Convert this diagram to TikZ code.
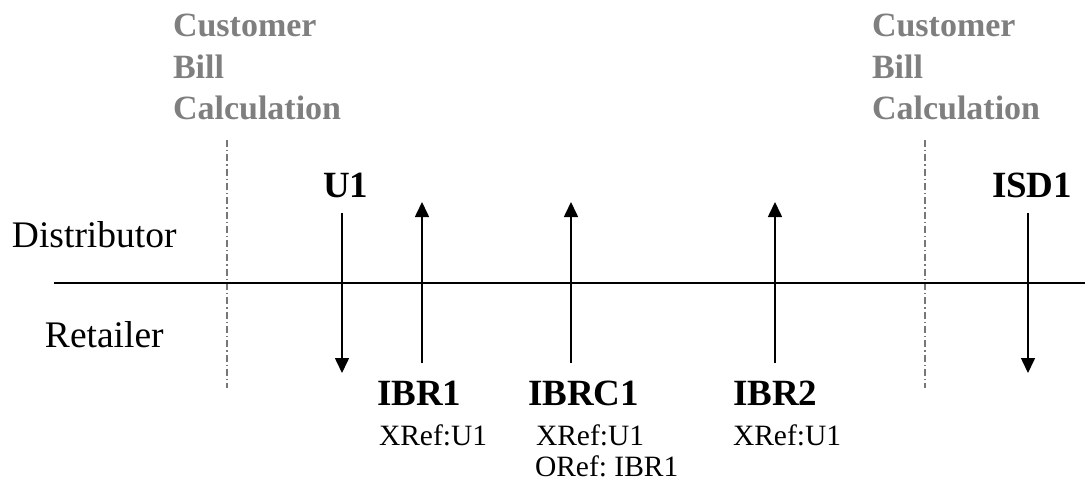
\documentclass[tikz,border=0pt]{standalone}
\usepackage{fontspec}
\setmainfont{Liberation Serif}
\usetikzlibrary{arrows.meta}
\frenchspacing
\definecolor{hdrgray}{HTML}{7F7F7F}
\definecolor{sepgray}{HTML}{777777}
\tikzset{
  txt/.style={anchor=base west, inner sep=0pt, outer sep=0pt},
  hdr/.style={txt, text=hdrgray, font=\fontsize{34}{41}\selectfont\bfseries},
  lane/.style={txt, font=\fontsize{37.5}{40}\selectfont},
  msg/.style={txt, font=\fontsize{37}{40}\selectfont\bfseries},
  refs/.style={txt, font=\fontsize{29.5}{32}\selectfont},
  sep/.style={draw=sepgray, line width=1.3pt, dash pattern=on 7pt off 3pt on 1.3pt off 3pt},
  axis/.style={draw=black, line width=1.6pt},
  flow/.style={draw=black, line width=1.6pt, -{Triangle[length=15pt,width=14pt]}}
}
\begin{document}
\begin{tikzpicture}[x=1pt,y=-1pt]
\useasboundingbox (0,0) rectangle (1085,487);

% headers
\node[hdr] (hl1) at (173,37) {Customer};
\node[hdr] (hl2) at (173,78) {Bill};
\node[hdr] (hl3) at (173,119) {Calculation};
\node[hdr] (hr1) at (872,37) {Customer};
\node[hdr] (hr2) at (872,78) {Bill};
\node[hdr] (hr3) at (872,119) {Calculation};

% separators
\coordinate (sl1) at (227,140);
\coordinate (sl2) at (227,388);
\coordinate (sr1) at (925,140);
\coordinate (sr2) at (925,388);
\draw[sep] (sl1) -- (sl2);
\draw[sep] (sr1) -- (sr2);

% lanes
\node[lane] (dist) at (12,247) {Distributor};
\node[lane] (ret) at (45,347) {Retailer};
\coordinate (ax1) at (54,283);
\coordinate (ax2) at (1085,283);
\draw[axis] (ax1) -- (ax2);

% messages
\node[msg] (U1) at (323,197) {U1};
\node[msg] (ISD1) at (992,197) {ISD1};
\node[msg] (IBR1) at (377,405) {IBR1};
\node[msg] (IBRC1) at (528,405) {IBRC1};
\node[msg] (IBR2) at (733,405) {IBR2};

\node[refs] (r1) at (379,445) {XRef:U1};
\node[refs] (r2) at (536,445) {XRef:U1};
\node[refs] (r3) at (535,476) {ORef: IBR1};
\node[refs] (r4) at (733,445) {XRef:U1};

% arrows
\coordinate (a1s) at (342,213);  \coordinate (a1e) at (342,373);
\coordinate (a2s) at (422,363);  \coordinate (a2e) at (422,202);
\coordinate (a3s) at (571,363);  \coordinate (a3e) at (571,202);
\coordinate (a4s) at (775,363);  \coordinate (a4e) at (775,202);
\coordinate (a5s) at (1028,213); \coordinate (a5e) at (1028,373);
\draw[flow] (a1s) -- (a1e);
\draw[flow] (a2s) -- (a2e);
\draw[flow] (a3s) -- (a3e);
\draw[flow] (a4s) -- (a4e);
\draw[flow] (a5s) -- (a5e);
\end{tikzpicture}
\end{document}
